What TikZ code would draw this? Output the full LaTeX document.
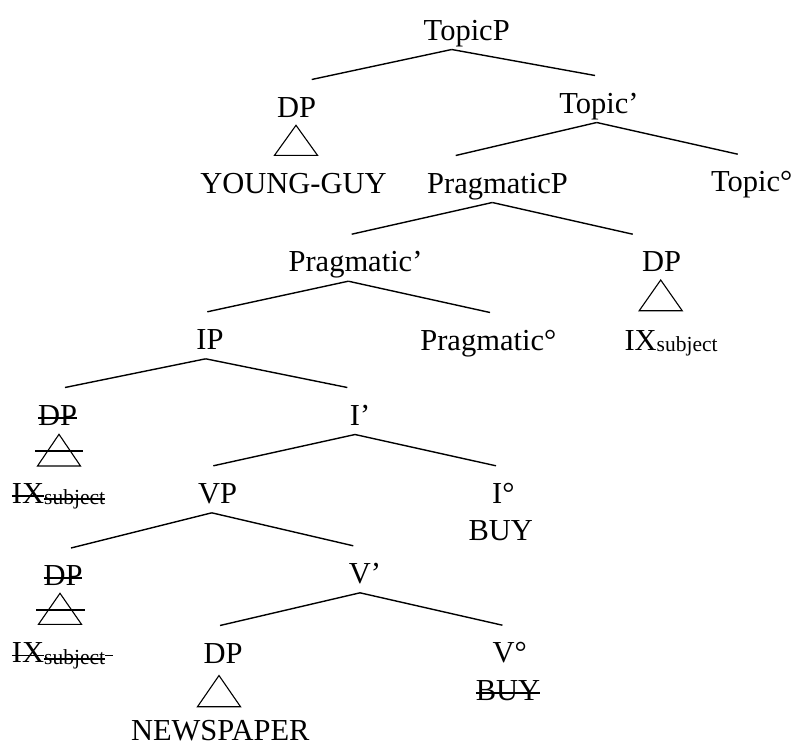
\documentclass[tikz,border=0pt]{standalone}
\usepackage{fontspec}
\setmainfont{Liberation Serif}
\usetikzlibrary{calc}
\newcommand\strk[1]{\setbox0\hbox{#1}\rlap{\rule[0.21em]{\wd0}{1.8pt}}\box0}
\newcommand\subj[1]{\raisebox{-1.5pt}{\fontsize{21.5}{24}\selectfont #1}}
\begin{document}
\begin{tikzpicture}[x=1pt,y=-1pt,
  lbl/.style={inner sep=0pt, outer sep=0pt, text height=37.5pt, text depth=9.5pt, anchor=base, font=\fontsize{30.5}{36}\selectfont},
  edge/.style={line width=1.4pt},
  tri/.style={line width=1.1pt, line join=miter},
  xline/.style={line width=1.8pt}]
\useasboundingbox (0,0) rectangle (797,744);
% nodes
\node[lbl] (topicp) at (466.7,40) {TopicP};
\node[lbl] (dpa) at (296.7,117) {DP};
\node[lbl] (young) at (293.5,193.3) {YOUNG-GUY};
\node[lbl] (topicbar) at (599,113) {Topic’};
\node[lbl] (pragp) at (497.5,193) {PragmaticP};
\node[lbl] (topicdeg) at (751.7,191.7) {Topic°};
\node[lbl] (pragbar) at (355.5,271.7) {Pragmatic’};
\node[lbl] (dpb) at (661.7,271.7) {DP};
\node[lbl,anchor=base west] (ixb) at (624.5,350) {IX\subj{subject}};
\node[lbl] (ip) at (210,349.3) {IP};
\node[lbl] (pragdeg) at (488.3,350) {Pragmatic°};
\node[lbl] (dpc) at (57.5,425) {\strk{DP}};
\node[lbl,anchor=base west] (ixc) at (12,503.3) {\strk{IX}\subj{\strk{subject}}};
\node[lbl] (ibar) at (360,425) {I’};
\node[lbl] (vp) at (217.5,503.3) {VP};
\node[lbl] (ideg) at (503.4,503.3) {I°};
\node[lbl] (buya) at (500.8,540.5) {BUY};
\node[lbl] (dpd) at (63,585.5) {\strk{DP}};
\node[lbl,anchor=base west] (ixd) at (12,662.7) {\strk{IX}\subj{\strk{subject}}\strk{\ }};
\node[lbl] (vbar) at (365,583.3) {V’};
\node[lbl] (dpe) at (223,663) {DP};
\node[lbl,text depth=0pt] (news) at (220.3,740) {NEWSPAPER};
\node[lbl] (vdeg) at (509.7,662.7) {V°};
\node[lbl] (buyb) at (508,700) {\strk{BUY}};
% edges
\draw[edge] ([xshift=-15pt]topicp.south) -- ([xshift=15pt]dpa.north);
\draw[edge] ([xshift=-15pt]topicp.south) -- ([xshift=-4pt]topicbar.north);
\draw[edge] ([xshift=-2.3pt]topicbar.south) -- ([xshift=-41.8pt]pragp.north);
\draw[edge] ([xshift=-2.3pt]topicbar.south) -- ([xshift=-14pt]topicdeg.north);
\draw[edge] ([xshift=-5.2pt]pragp.south) -- ([xshift=-3.8pt]pragbar.north);
\draw[edge] ([xshift=-5.2pt]pragp.south) -- ([xshift=-29pt]dpb.north);
\draw[edge] ([xshift=-7.2pt]pragbar.south) -- ([xshift=-2.7pt]ip.north);
\draw[edge] ([xshift=-7.2pt]pragbar.south) -- ([xshift=1.7pt]pragdeg.north);
\draw[edge] ([xshift=-4.3pt]ip.south) -- ([xshift=7.5pt]dpc.north);
\draw[edge] ([xshift=-4.3pt]ip.south) -- ([xshift=-12.7pt]ibar.north);
\draw[edge] ([xshift=-5pt]ibar.south) -- ([xshift=-4.2pt]vp.north);
\draw[edge] ([xshift=-5pt]ibar.south) -- ([xshift=-7.4pt]ideg.north);
\draw[edge] ([xshift=-5.8pt]vp.south) -- ([xshift=8pt]dpd.north);
\draw[edge] ([xshift=-5.8pt]vp.south) -- ([xshift=-11.7pt]vbar.north);
\draw[edge] ([xshift=-5pt]vbar.south) -- ([xshift=-3pt]dpe.north);
\draw[edge] ([xshift=-5pt]vbar.south) -- ([xshift=-7.3pt]vdeg.north);
% triangles
\draw[tri] ($(dpa.base)+(-0.7,8.3)$) -- ++(-21.5,30) -- ++(43,0) -- cycle;
\draw[tri] ($(dpb.base)+(-1,8.3)$) -- ++(-21.5,30.7) -- ++(43,0) -- cycle;
\draw[tri] ($(dpc.base)+(1.5,9.3)$) -- ++(-21.5,31.7) -- ++(43,0) -- cycle;
\draw[tri] ($(dpd.base)+(-3,7.8)$) -- ++(-21.5,31) -- ++(43,0) -- cycle;
\draw[tri] ($(dpe.base)+(-4,12.5)$) -- ++(-21.5,31.2) -- ++(43,0) -- cycle;
% strike lines through triangles
\draw[xline] ($(dpc.base)+(-22.5,26)$) -- ++(48.3,0);
\draw[xline] ($(dpd.base)+(-27,24.5)$) -- ++(49,0);
\end{tikzpicture}
\end{document}
